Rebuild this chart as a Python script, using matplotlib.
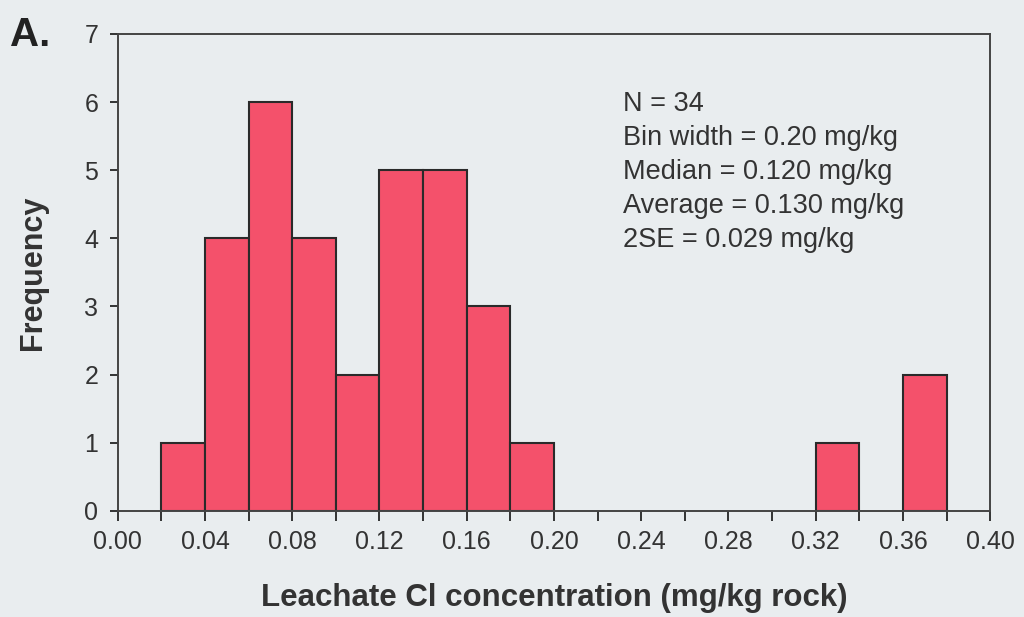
import numpy as np
import matplotlib
matplotlib.use("Agg")
from matplotlib import pyplot as plt

# bin edges (mg/kg) and counts of leachate Cl concentrations
bin_left = [0.02, 0.04, 0.06, 0.08, 0.10, 0.12, 0.14, 0.16, 0.18, 0.32, 0.36]
counts = [1, 4, 6, 4, 2, 5, 5, 3, 1, 1, 2]
bin_w = 0.02

stats = ["N = 34",
         "Bin width = 0.20 mg/kg",
         "Median = 0.120 mg/kg",
         "Average = 0.130 mg/kg",
         "2SE = 0.029 mg/kg"]

plt.rcParams['font.family'] = ['Liberation Sans', 'DejaVu Sans']
bg = "#e9edef"
txt = "#333333"

fig = plt.figure(figsize=(10.24, 6.17), dpi=100, facecolor=bg)
ax = fig.add_axes([0.115, 0.172, 0.852, 0.773])
ax.set_facecolor(bg)

ax.bar(bin_left, counts, width=bin_w, align="edge", color="#f4516b",
       edgecolor="#2a2a2a", linewidth=1.5)

ax.set_xlim(0, 0.40)
ax.set_ylim(0, 7)
ax.set_xticks(np.arange(0, 0.401, 0.04))
ax.set_xticks(np.arange(0, 0.401, 0.02), minor=True)
ax.set_xticklabels(["%.2f" % v for v in np.arange(0, 0.401, 0.04)])
ax.set_yticks(range(8))
ax.tick_params(axis="both", which="both", direction="out", colors="#333333",
               labelcolor=txt, labelsize=18, width=1.4)
ax.tick_params(axis="x", which="both", length=7, pad=7)
ax.tick_params(axis="y", length=6, pad=8)
for s in ax.spines.values():
    s.set_color("#444444")
    s.set_linewidth(1.4)

ax.set_xlabel("Leachate Cl concentration (mg/kg rock)", fontsize=22.5,
              fontweight="bold", color=txt, labelpad=21)
ax.set_ylabel("Frequency", fontsize=22, fontweight="bold", color=txt, labelpad=26)

ax.text(0.579, 0.88, "\n".join(stats), transform=ax.transAxes, fontsize=19.5,
        color=txt, va="top", ha="left", linespacing=1.4)
fig.text(0.01, 0.925, "A.", fontsize=29, fontweight="bold", color="#222222")

fig.savefig("out.png", dpi=100, facecolor=bg)
